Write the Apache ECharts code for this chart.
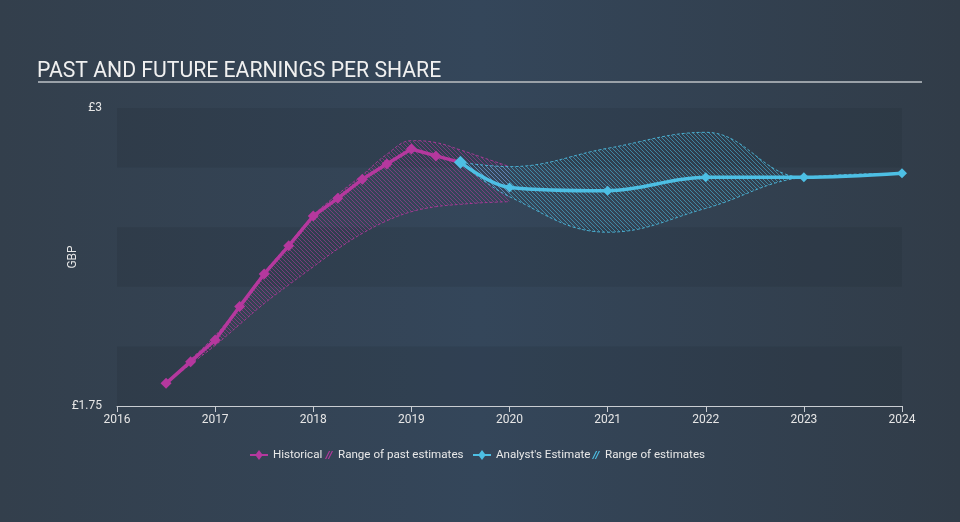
<!DOCTYPE html>
<html>
<head>
<meta charset="utf-8">
<script src="https://cdn.jsdelivr.net/npm/echarts@6/dist/echarts.min.js"></script>
<style>
  html, body { margin:0; padding:0; width:960px; height:522px; overflow:hidden;
    background: linear-gradient(90deg, #333f4c 0%, #34465a 50%, #313c48 100%); }
  #chart { width:960px; height:522px; }
</style>
</head>
<body>
<div id="chart"></div>
<script>
// ---- data ----
const histX = [2016.5, 2016.75, 2017, 2017.25, 2017.5, 2017.75, 2018, 2018.25, 2018.5, 2018.75, 2019, 2019.25, 2019.5];
const histEPS = [1.845, 1.936, 2.027, 2.167, 2.304, 2.422, 2.547, 2.621, 2.701, 2.765, 2.828, 2.799, 2.772];

const pastRangeX = [2016.5, 2016.75, 2017, 2017.25, 2017.5, 2017.75, 2018, 2018.25, 2018.5, 2018.75, 2019, 2019.25, 2019.5, 2019.75, 2020];
const pastLow  = [1.845, 1.925, 2.004, 2.092, 2.18, 2.258, 2.334, 2.409, 2.474, 2.527, 2.565, 2.586, 2.596, 2.603, 2.607];
const pastHigh = [1.845, 1.945, 2.045, 2.172, 2.31, 2.43, 2.55, 2.638, 2.719, 2.806, 2.863, 2.855, 2.824, 2.789, 2.754];

const fcX = [2019.5, 2020, 2021, 2022, 2023, 2024];
const fcEPS = [2.772, 2.667, 2.653, 2.709, 2.709, 2.726];
const fcLow  = [2.772, 2.628, 2.479, 2.579, 2.709, 2.726];
const fcHigh = [2.772, 2.754, 2.831, 2.898, 2.709, 2.726];

const yearTicks = [2016, 2017, 2018, 2019, 2020, 2021, 2022, 2023, 2024];
const yLabels = { '3': '£3', '1.75': '£1.75' };

// ---- styles ----
const PINK = '#b5389e';
const CYAN = '#4dbfe4';

function hatch(color) {
  const c = document.createElement('canvas');
  c.width = 4; c.height = 4;
  const g = c.getContext('2d');
  g.fillStyle = color;
  for (let i = 0; i < 4; i++) g.fillRect(i, i, 1, 1);
  return { image: c, repeat: 'repeat' };
}

// value first, x second (encode y:0, x:1) so stacking acts on the value dimension
const pairs = (xs, ys) => xs.map((x, i) => [ys[i], x]);
const diffPairs = (xs, hi, lo) => xs.map((x, i) => [+(hi[i] - lo[i]).toFixed(4), x]);
const ENC = { x: 1, y: 0 };

const diamondLine = 'path://M0,4 L6,4 L9,0 L12,4 L18,4 L18,6 L12,6 L9,10 L6,6 L0,6 Z';
const hatchIcon = 'path://M0,10 L5,0 L6.5,0 L1.5,10 Z M3.5,10 L8.5,0 L10,0 L5,10 Z';

const chart = echarts.init(document.getElementById('chart'));
const legendText = { color: '#e8e8e8', fontSize: 11.6, fontFamily: 'Roboto' };
const lg = { top: 449, padding: 0, textStyle: legendText, selectedMode: false, itemHeight: 10 };

chart.setOption({
  backgroundColor: 'transparent',
  animation: false,
  title: {
    text: 'PAST AND FUTURE EARNINGS PER SHARE',
    left: 32, top: 56,
    textStyle: { color: '#f0f0f0', fontSize: 21.2, fontWeight: 'normal', fontFamily: 'Roboto' }
  },
  graphic: [{
    type: 'rect', shape: { x: 38, y: 81, width: 884, height: 2 },
    style: { fill: '#9aa1a8' }
  }],
  legend: [
    Object.assign({ data: [{ name: 'Historical', icon: diamondLine }], left: 250, itemWidth: 18 }, lg),
    Object.assign({ data: [{ name: 'Range of past estimates', icon: hatchIcon }], left: 325, itemWidth: 8 }, lg),
    Object.assign({ data: [{ name: "Analyst's Estimate", icon: diamondLine }], left: 473, itemWidth: 18 }, lg),
    Object.assign({ data: [{ name: 'Range of estimates', icon: hatchIcon }], left: 592, itemWidth: 8 }, lg)
  ],
  grid: { left: 117, right: 58, top: 108, bottom: 116 },
  xAxis: {
    type: 'value', min: 2016, max: 2024, interval: 1,
    axisLine: { show: true, lineStyle: { color: '#c9cdd2', width: 1 } },
    axisTick: { show: true, length: 6, lineStyle: { color: '#c9cdd2' } },
    axisLabel: { color: '#e6e6e6', fontSize: 12, fontFamily: 'Roboto', margin: 8,
      formatter: v => yearTicks.includes(v) ? String(v) : '' },
    splitLine: { show: false }
  },
  yAxis: {
    type: 'value', min: 1.75, max: 3, interval: 0.25,
    name: 'GBP', nameLocation: 'middle', nameGap: 38, nameRotate: 90, nameMoveOverlap: false,
    nameTextStyle: { color: '#e6e6e6', fontSize: 12, fontFamily: 'Roboto' },
    axisLine: { show: false }, axisTick: { show: false },
    axisLabel: { color: '#e6e6e6', fontSize: 12, fontFamily: 'Roboto', margin: 15,
      formatter: v => yLabels[String(v)] || '' },
    splitLine: { show: false },
    splitArea: { show: true, areaStyle: { color: ['rgba(22,30,40,0.13)', 'rgba(255,255,255,0.0)'] } }
  },
  series: [
    {
      name: 'pastLow', type: 'line', stack: 'past', smooth: 0.4, symbol: 'none',
      data: pairs(pastRangeX, pastLow), encode: ENC,
      lineStyle: { color: PINK, width: 1, type: [3, 2], opacity: 0.85 },
      itemStyle: { color: PINK }, silent: true, z: 1
    },
    {
      name: 'Range of past estimates', type: 'line', stack: 'past', smooth: 0.4, symbol: 'none',
      data: diffPairs(pastRangeX, pastHigh, pastLow), encode: ENC,
      lineStyle: { color: PINK, width: 1, type: [3, 2], opacity: 0.85 },
      itemStyle: { color: PINK },
      areaStyle: { color: hatch('rgba(181,56,158,0.55)'), opacity: 1 },
      silent: true, z: 1
    },
    {
      name: 'fcLow', type: 'line', stack: 'future', smooth: 0.4, symbol: 'none',
      data: pairs(fcX, fcLow), encode: ENC,
      lineStyle: { color: CYAN, width: 1, type: [3, 2], opacity: 0.85 },
      itemStyle: { color: CYAN }, silent: true, z: 2
    },
    {
      name: 'Range of estimates', type: 'line', stack: 'future', smooth: 0.4, symbol: 'none',
      data: diffPairs(fcX, fcHigh, fcLow), encode: ENC,
      lineStyle: { color: CYAN, width: 1, type: [3, 2], opacity: 0.85 },
      itemStyle: { color: CYAN },
      areaStyle: { color: hatch('rgba(77,191,228,0.55)'), opacity: 1 },
      silent: true, z: 2
    },
    {
      name: 'Historical', type: 'line', smooth: false,
      data: pairs(histX, histEPS), encode: ENC,
      symbol: 'diamond', symbolSize: 11,
      lineStyle: { color: PINK, width: 3.5 },
      itemStyle: { color: PINK }, z: 5
    },
    {
      name: "Analyst's Estimate", type: 'line', smooth: 0.35,
      data: pairs(fcX, fcEPS).map((p, i) => i === 0 ? { value: p, symbolSize: 13 } : p), encode: ENC,
      symbol: 'diamond', symbolSize: 10,
      lineStyle: { color: CYAN, width: 3.5 },
      itemStyle: { color: CYAN }, z: 6
    }
  ]
});
</script>
</body>
</html>
